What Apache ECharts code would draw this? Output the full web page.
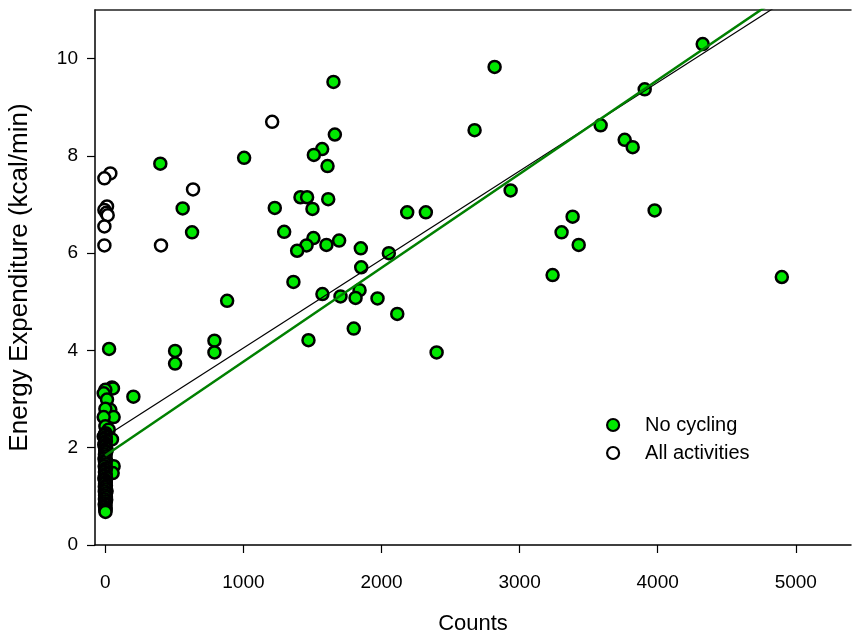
<!DOCTYPE html>
<html>
<head>
<meta charset="utf-8">
<script src="https://cdn.jsdelivr.net/npm/echarts@6/dist/echarts.min.js"></script>
<style>html,body{margin:0;padding:0;background:#fff;}#c{width:852px;height:634px;}</style>
</head>
<body>
<div id="c"></div>
<script>
// ---- data ----
const xTicks = [0, 1000, 2000, 3000, 4000, 5000];
const yTicks = [0, 2, 4, 6, 8, 10];
const seriesNames = ['No cycling', 'All activities'];

// No cycling (green filled)
const noCycling = [
  [1652, 9.52], [2819, 9.83], [4326, 10.30], [3906, 9.37], [1005, 7.96], [398, 7.84],
  [3587, 8.63], [3761, 8.33], [3819, 8.18], [2674, 8.53], [1662, 8.44], [1570, 8.14],
  [1510, 8.02], [1609, 7.79], [560, 6.92], [1227, 6.93], [1413, 7.15], [1461, 7.15],
  [1614, 7.11], [1500, 6.91], [2186, 6.84], [2321, 6.84], [3978, 6.88], [2935, 7.29],
  [628, 6.43], [1295, 6.44], [1507, 6.31], [1693, 6.26], [1457, 6.16], [1601, 6.17],
  [1389, 6.05], [1850, 6.10], [2053, 6.00], [3239, 5.55], [3304, 6.43], [3384, 6.75],
  [3428, 6.17], [4899, 5.51], [1853, 5.71], [1841, 5.24], [1703, 5.11], [1812, 5.08],
  [1971, 5.07], [1572, 5.16], [1362, 5.41], [882, 5.02], [2114, 4.75], [1799, 4.45],
  [1471, 4.21], [2399, 3.96], [505, 3.99], [505, 3.73], [790, 4.20], [790, 3.96],
  [203, 3.05], [27, 4.03],
  [48, 3.24], [55, 3.22], [0, 3.19], [-12, 3.12], [12, 2.99], [36, 2.78], [0, 2.80],
  [60, 2.63], [-12, 2.63], [0, 2.44], [24, 2.37], [48, 2.17], [-12, 2.23],
  [60, 1.62], [53, 1.48],
  [2, 2.30], [-3, 2.26], [3, 2.22], [-2, 2.18], [4, 2.14], [-4, 2.10], [1, 2.06],
  [-2, 2.02], [5, 1.98], [-1, 1.94], [3, 1.90], [-3, 1.86], [1, 1.82], [-4, 1.78],
  [4, 1.74], [-2, 1.70], [2, 1.66], [-5, 1.62], [5, 1.58], [0, 1.54], [-3, 1.50],
  [3, 1.46], [-1, 1.42], [5, 1.38], [-4, 1.34], [1, 1.30], [-2, 1.26], [4, 1.22],
  [0, 1.18], [3, 1.14], [-4, 1.10], [2, 1.06], [-2, 1.02], [4, 0.98], [-3, 0.94],
  [1, 0.90], [-1, 0.86], [2, 0.82], [-2, 0.78], [1, 0.74], [0, 0.71], [1, 0.68]
];

// All activities (open circles; cycling points visible beyond the green ones)
const allActivities = [
  [1208, 8.70], [635, 7.31], [403, 6.16], [36, 7.64], [-7, 7.54], [12, 6.96],
  [-7, 6.89], [7, 6.83], [17, 6.78], [-7, 6.55], [-7, 6.16],
  [-3, 2.28], [5, 2.17], [-8, 2.06], [10, 1.95], [0, 1.86], [-5, 1.76], [7, 1.66],
  [-1, 1.57], [12, 1.48], [-7, 1.38], [3, 1.29], [-4, 1.20], [9, 1.11], [-1, 1.02],
  [6, 0.93], [-5, 0.84], [1, 0.76]
];

// regression lines: [intercept, slope]
const fitNoCycling = [1.84, 0.00193];
const fitAll = [2.23, 0.00182];
const fitRange = [0, 5400];

const lineData = f => fitRange.map(x => [x, f[0] + f[1] * x]);

const FONT = '"Liberation Sans", Arial, sans-serif';
const chart = echarts.init(document.getElementById('c'), null, {renderer: 'canvas'});
chart.setOption({
  animation: false,
  backgroundColor: '#fff',
  grid: {left: 95, right: 1, top: 10, bottom: 89, containLabel: false, outerBoundsMode: 'none'},
  xAxis: [{
    type: 'value', min: -75, max: 5400,
    name: 'Counts', nameLocation: 'middle', nameGap: 68,
    nameTextStyle: {fontFamily: FONT, fontSize: 22, color: '#000'},
    axisLine: {show: true, onZero: false, lineStyle: {color: '#000', width: 1.5}},
    axisTick: {show: true, customValues: xTicks, length: 8, inside: false, lineStyle: {color: '#000', width: 1.2}},
    axisLabel: {customValues: xTicks, margin: 28, fontFamily: FONT, fontSize: 19, color: '#000',
      formatter: v => String(v)},
    splitLine: {show: false}
  }, {
    type: 'value', min: -75, max: 5400, position: 'top',
    axisLine: {show: true, onZero: false, lineStyle: {color: '#222', width: 1.5}},
    axisTick: {show: false}, axisLabel: {show: false}, splitLine: {show: false}
  }],
  yAxis: {
    type: 'value', min: 0, max: 11,
    name: 'Energy Expenditure (kcal/min)', nameLocation: 'middle', nameGap: 62,
    nameTextStyle: {fontFamily: FONT, fontSize: 26, color: '#000'},
    axisLine: {show: true, onZero: false, lineStyle: {color: '#000', width: 1.5}},
    axisTick: {show: true, customValues: yTicks, length: 8, lineStyle: {color: '#000', width: 1.2}},
    axisLabel: {customValues: yTicks, margin: 17, fontFamily: FONT, fontSize: 19, color: '#000'},
    splitLine: {show: false}
  },
  legend: {
    data: seriesNames, orient: 'vertical', left: 601, top: 410,
    itemWidth: 12, itemHeight: 12, itemGap: 8,
    textStyle: {fontFamily: FONT, fontSize: 20, color: '#000', padding: [0, 0, 0, 21]},
    itemStyle: {borderWidth: 2.2, borderColor: '#000'}
  },
  series: [{
    name: seriesNames[1], type: 'scatter', data: allActivities,
    symbol: 'circle', symbolSize: 12,
    itemStyle: {color: '#fff', borderColor: '#000', borderWidth: 2.5, opacity: 1},
    z: 2
  }, {
    name: seriesNames[0], type: 'scatter', data: noCycling,
    symbol: 'circle', symbolSize: 12,
    itemStyle: {color: '#00e800', borderColor: '#000', borderWidth: 2.5, opacity: 1},
    z: 3
  }, {
    name: 'fit all', type: 'line', data: lineData(fitAll), showSymbol: false, symbol: 'none',
    lineStyle: {color: '#000', width: 1.2}, clip: true, z: 4, silent: true
  }, {
    name: 'fit no cycling', type: 'line', data: lineData(fitNoCycling), showSymbol: false, symbol: 'none',
    lineStyle: {color: '#008000', width: 2.5}, clip: true, z: 5, silent: true
  }]
});
</script>
</body>
</html>
